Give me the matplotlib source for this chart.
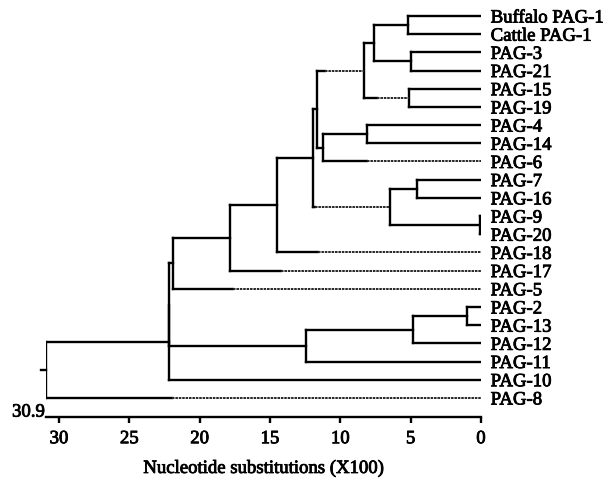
import matplotlib
matplotlib.use('Agg')
import matplotlib.pyplot as plt
import matplotlib.transforms as mtransforms
import matplotlib.patheffects as pe

# leaves, top to bottom
leaves = ['Buffalo PAG-1', 'Cattle PAG-1', 'PAG-3', 'PAG-21', 'PAG-15', 'PAG-19',
          'PAG-4', 'PAG-14', 'PAG-6', 'PAG-7', 'PAG-16', 'PAG-9', 'PAG-20',
          'PAG-18', 'PAG-17', 'PAG-5', 'PAG-2', 'PAG-13', 'PAG-12', 'PAG-11',
          'PAG-10', 'PAG-8']

# merges: node 22 + k joins left[k] and right[k] at height[k]
left = [0, 2, 22, 4, 24, 6, 27, 26, 9, 11, 30, 29, 33, 34, 35, 16, 37, 38, 36, 40, 41]
right = [1, 3, 23, 5, 25, 7, 8, 28, 10, 12, 31, 32, 13, 14, 15, 17, 18, 19, 39, 20, 21]
height = [5.19, 4.98, 7.57, 5.15, 8.32, 8.12, 11.21, 11.68, 4.53, 0.1, 6.47,
          11.96, 14.52, 17.84, 21.91, 1.02, 4.81, 12.46, 22.15, 22.2, 30.9]

# branches drawn dotted from this distance down to the child
dotted_child = [21, 15, 14, 13, 8, 32, 26, 25]
dotted_from = [22.0, 17.63, 14.24, 11.58, 8.12, 11.8, 11.09, 7.39]

xticks = [30, 25, 20, 15, 10, 5, 0]
root_label = '30.9'

plt.rcParams['font.family'] = ['Liberation Serif', 'DejaVu Serif']

fig = plt.figure(figsize=(6.16, 4.85), dpi=100)
ax = fig.add_axes([0.0752, 0.1381, 0.7056, 0.8606])

n = len(leaves)
ypos = {i: float(i) for i in range(n)}
xpos = {i: 0.0 for i in range(n)}
for k in range(len(height)):
    ypos[n + k] = (ypos[left[k]] + ypos[right[k]]) / 2
    xpos[n + k] = height[k]

dots = dict(zip(dotted_child, dotted_from))
lw = 1.7
solid_kw = dict(color='black', lw=lw, solid_capstyle='projecting')
dot_kw = dict(color='0.15', lw=1.4, linestyle=(0, (1.3, 0.45)))

for k in range(len(height)):
    h = height[k]
    a, b = left[k], right[k]
    ax.plot([h, h], [ypos[a], ypos[b]], **solid_kw)
    for c in (a, b):
        if c in dots:
            ax.plot([h, dots[c]], [ypos[c], ypos[c]], **solid_kw)
            ax.plot([dots[c], xpos[c]], [ypos[c], ypos[c]], **dot_kw)
        else:
            ax.plot([h, xpos[c]], [ypos[c], ypos[c]], **solid_kw)

# small root stub
root = n + len(height) - 1
ax.plot([height[-1], height[-1] + 0.35], [ypos[root], ypos[root]],
        color='black', lw=lw, clip_on=False)

heavy = [pe.withStroke(linewidth=0.6, foreground='black')]

for i, name in enumerate(leaves):
    ax.annotate(name, xy=(0, i), xytext=(7, 0), textcoords='offset points',
                ha='left', va='center_baseline', fontsize=13.5,
                annotation_clip=False, path_effects=heavy)

ax.set_xlim(height[-1], 0)
ax.set_ylim(n - 1 + 1.05, -0.9)
ax.set_yticks([])
for s in ['left', 'right', 'top']:
    ax.spines[s].set_visible(False)
ax.spines['bottom'].set_linewidth(lw)
ax.set_xticks(xticks)
ax.tick_params(axis='x', direction='out', length=4, width=lw, pad=5.5,
               labelsize=13.5)
for t in ax.get_xticklabels():
    t.set_path_effects(heavy)
ax.set_xlabel('Nucleotide substitutions (X100)', fontsize=13.5, labelpad=9,
              path_effects=heavy)

trans = mtransforms.blended_transform_factory(ax.transData, ax.transAxes)
ax.annotate(root_label, xy=(height[-1], 0), xycoords=trans, xytext=(-1, 5),
            textcoords='offset points', ha='right', va='center_baseline',
            fontsize=13.5, annotation_clip=False, path_effects=heavy)

fig.savefig('out.png', dpi=100)
